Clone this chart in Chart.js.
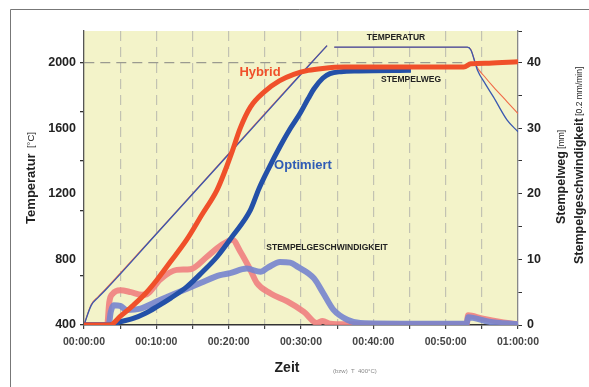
<!DOCTYPE html>
<html lang="de">
<head>
  <meta charset="UTF-8" />
  <title>Temperatur / Stempelweg</title>
  <script src="https://cdn.jsdelivr.net/npm/chart.js"></script>
  <style>
    body { margin: 0; padding: 0; background: #ffffff; }
    #wrap { width: 589px; height: 387px; position: relative; }
  </style>
</head>
<body>
  <div id="wrap"><canvas id="chart" width="589" height="387"></canvas></div>

  <script>
    // Zeit in Minuten, Temperatur in °C
    const tempOptT = [0, 1, 2, 3, 10, 20, 30, 33.6, 34.1, 34.6, 53, 53.5, 54.4, 55.5, 56.6, 58.5, 60];
    const tempOptV = [400, 520, 570, 615, 955, 1442, 1930, 2105, null, 2095, 2095, 2077, 1955, 1870, 1792, 1650, 1579];
    const tempHybT = [0, 1, 2, 3, 10, 20, 30, 33.6, 34.1, 34.6, 53, 53.5, 54.2, 55.4, 56.6, 58.5, 60];
    const tempHybV = [400, 525, 575, 620, 958, 1446, 1934, 2105, null, 2095, 2095, 2080, 1985, 1915, 1853, 1762, 1690];

    // Stempelweg in mm
    const wegHybT = [0, 3.6, 5, 6.8, 8.5, 10.1, 12, 14.2, 16.3, 18.4, 19.5, 20.5, 21.6, 23, 25, 27, 29, 31, 33, 36, 45, 52.5, 53.5, 56, 60];
    const wegHybV = [0, 0, 1.3, 3.0, 4.8, 6.9, 9.7, 13.0, 16.8, 20.6, 23.5, 26.5, 30.0, 33.2, 35.6, 37.2, 38.2, 38.8, 39.1, 39.3, 39.3, 39.3, 39.8, 39.9, 40.1];
    const wegOptT = [0, 3.5, 5, 6.8, 8.5, 10.1, 12, 14.2, 16.3, 18.4, 20.5, 23, 24.2, 25.5, 27.1, 28.5, 29.9, 31, 31.8, 33, 34, 35.5, 38, 45.2];
    const wegOptV = [0, 0, 0.5, 1.0, 1.8, 2.8, 4.1, 5.8, 8.0, 10.4, 13.5, 17.5, 20.8, 23.8, 27.2, 29.9, 32.3, 34.5, 36, 37.6, 38.3, 38.6, 38.7, 38.8];

    // Stempelgeschwindigkeit [0.2 mm/min]
    const speedHybT = [0, 3.2, 3.5, 4, 5, 6.5, 8, 8.7, 10.5, 12.8, 14.7, 17, 18.5, 19.8, 20.5, 21.6, 23, 23.9, 25.8, 28.1, 30.4, 32.2, 33, 34, 36, 52.9, 53.1, 55, 58, 60];
    const speedHybV = [0, 0, 3.5, 4.8, 5.3, 5.0, 4.6, 4.7, 6.9, 8.4, 8.5, 10.4, 11.8, 12.7, 13.0, 11.2, 8.4, 6.4, 4.8, 3.6, 2.0, 0.3, 0.6, 0.2, 0.1, 0.1, 1.5, 1.0, 0.4, 0.1];
    const speedOptT = [0, 3.4, 3.7, 4.1, 5, 5.9, 7.8, 10.5, 13.3, 16.1, 18.8, 20.2, 22.5, 24.4, 25.5, 27.1, 28.5, 29.5, 31.8, 33.1, 34.5, 36.4, 38.2, 45, 52.9, 53.1, 56, 60];
    const speedOptV = [0, 0, 2.0, 3.0, 2.9, 2.3, 2.5, 3.8, 5.1, 6.4, 7.6, 7.9, 8.6, 8.1, 8.8, 9.6, 9.5, 8.9, 7.1, 4.8, 2.3, 0.8, 0.3, 0.2, 0.2, 1.2, 0.5, 0.1];

    const leftLabels = [400, 800, 1200, 1600, 2000];
    const leftMarks = [400, 700, 1100, 1400, 1700, 2000];

    const zip = (t, v) => t.map((x, i) => ({ x: x, y: v[i] }));
    const fontFam = "'Liberation Sans', Arial, sans-serif";

    function fmtTime(m) {
      const h = Math.floor(m / 60);
      const mm = m % 60;
      return '0' + h + ':' + String(mm).padStart(2, '0') + ':00';
    }

    const decor = {
      id: 'decor',
      beforeDraw(chart) {
        const ctx = chart.ctx;
        const a = chart.chartArea;
        ctx.save();
        // outer frame
        ctx.strokeStyle = '#777';
        ctx.lineWidth = 1;
        ctx.beginPath();
        ctx.moveTo(10.5, 387);
        ctx.lineTo(10.5, 9.5);
        ctx.lineTo(589, 9.5);
        ctx.stroke();
        // plot background
        ctx.fillStyle = '#f3f3c9';
        ctx.fillRect(a.left, a.top, a.right - a.left, a.bottom - a.top);
        ctx.restore();
      },
      afterDraw(chart) {
        const ctx = chart.ctx;
        ctx.save();
        ctx.textBaseline = 'middle';

        // left axis title
        ctx.save();
        ctx.translate(31, 178);
        ctx.rotate(-Math.PI / 2);
        ctx.fillStyle = '#222';
        ctx.font = 'bold 13px ' + fontFam;
        const w1 = ctx.measureText('Temperatur').width;
        ctx.font = '9.5px ' + fontFam;
        const w2 = ctx.measureText('  [°C]').width;
        let x0 = -(w1 + w2) / 2;
        ctx.textAlign = 'left';
        ctx.font = 'bold 13px ' + fontFam;
        ctx.fillText('Temperatur', x0, 0);
        ctx.font = '9.5px ' + fontFam;
        ctx.fillText('  [°C]', x0 + w1, 0);
        ctx.restore();

        // right axis titles
        function vTitle(x, yStart, main, unit) {
          ctx.save();
          ctx.translate(x, yStart);
          ctx.rotate(-Math.PI / 2);
          ctx.fillStyle = '#222';
          ctx.textAlign = 'left';
          ctx.font = 'bold 12.5px ' + fontFam;
          const w = ctx.measureText(main).width;
          ctx.fillText(main, 0, 0);
          ctx.font = '8.5px ' + fontFam;
          ctx.fillText(' ' + unit, w, 0);
          ctx.restore();
        }
        vTitle(562, 224, 'Stempelweg', '[mm]');
        vTitle(580, 264, 'Stempelgeschwindigkeit', '[0.2 mm/min]');

        // x axis title
        ctx.textAlign = 'center';
        ctx.fillStyle = '#222';
        ctx.font = 'bold 14px ' + fontFam;
        ctx.fillText('Zeit', 287, 368);
        ctx.textAlign = 'left';
        ctx.fillStyle = '#888';
        ctx.font = '6px ' + fontFam;
        ctx.fillText('(bzw)  T  400°C)', 333, 371);

        // annotations
        ctx.textAlign = 'center';
        ctx.font = 'bold 13px ' + fontFam;
        ctx.fillStyle = '#f0502a';
        ctx.fillText('Hybrid', 260, 72);
        ctx.fillStyle = '#2f5cb5';
        ctx.fillText('Optimiert', 303, 165);
        ctx.fillStyle = '#222';
        ctx.font = 'bold 8.5px ' + fontFam;
        ctx.fillText('TEMPERATUR', 396, 38);
        ctx.fillText('STEMPELWEG', 411, 80);
        ctx.fillText('STEMPELGESCHWINDIGKEIT', 327, 248);
        ctx.restore();
      }
    };

    new Chart(document.getElementById('chart'), {
      type: 'line',
      data: {
        datasets: [
          { label: 'Stempelweg Hybrid', data: zip(wegHybT, wegHybV), yAxisID: 'y2',
            borderColor: '#f0502a', borderWidth: 5 },
          { label: 'Stempelweg Optimiert', data: zip(wegOptT, wegOptV), yAxisID: 'y2',
            borderColor: '#2350a8', borderWidth: 5 },
          { label: 'Temperatur Optimiert', data: zip(tempOptT, tempOptV), yAxisID: 'y',
            borderColor: '#3a58b0', borderWidth: 1.3 },
          { label: 'Temperatur Hybrid', data: zip(tempHybT, tempHybV), yAxisID: 'y',
            borderColor: '#f06a48', borderWidth: 1.1 },
          { label: 'Geschwindigkeit Optimiert', data: zip(speedOptT, speedOptV), yAxisID: 'y2',
            borderColor: 'rgba(118,132,206,0.9)', borderWidth: 6 },
          { label: 'Geschwindigkeit Hybrid', data: zip(speedHybT, speedHybV), yAxisID: 'y2',
            borderColor: 'rgba(240,128,128,0.9)', borderWidth: 6 }
        ]
      },
      options: {
        responsive: false,
        animation: false,
        spanGaps: false,
        layout: { padding: { top: 31, left: 0, right: 0, bottom: 0 } },
        elements: {
          point: { radius: 0 },
          line: { cubicInterpolationMode: 'monotone', fill: false }
        },
        plugins: { legend: { display: false }, tooltip: { enabled: false } },
        scales: {
          x: {
            type: 'linear', min: 0, max: 60,
            afterFit: s => { s.height = 62; },
            ticks: {
              stepSize: 5, autoSkip: false, maxRotation: 0, padding: 7,
              color: '#444', font: { family: fontFam, size: 10.5, weight: 'bold' },
              callback: v => (v % 10 === 0 ? fmtTime(v) : '')
            },
            grid: {
              color: c => (c.tick && (c.tick.value === 0 || c.tick.value === 60)) ? 'rgba(0,0,0,0)' : '#c2c2b2',
              tickColor: '#444', tickLength: 4, lineWidth: 1.2, tickBorderDash: []
            },
            border: { color: '#333', width: 1.5, dash: [10, 6] }
          },
          y: {
            position: 'left', min: 400, max: 2194,
            afterFit: s => { s.width = 84; },
            afterBuildTicks: s => { s.ticks = [400, 700, 800, 1100, 1200, 1400, 1600, 1700, 2000].map(v => ({ value: v })); },
            ticks: {
              padding: 4, color: '#222', font: { family: fontFam, size: 12.5, weight: 'bold' },
              callback: v => (leftLabels.includes(v) ? String(v) : '')
            },
            grid: {
              color: c => (c.tick && c.tick.value === 2000) ? '#9a9a90' : 'rgba(0,0,0,0)',
              tickColor: c => (c.tick && leftMarks.includes(c.tick.value)) ? '#333' : 'rgba(0,0,0,0)',
              tickLength: 4, lineWidth: 1.3, tickBorderDash: []
            },
            border: { color: '#555', width: 1.3, dash: [10, 6] }
          },
          y2: {
            position: 'right', min: 0, max: 44.8,
            afterFit: s => { s.width = 71; },
            ticks: {
              stepSize: 5, padding: 5, color: '#222', font: { family: fontFam, size: 12.5, weight: 'bold' },
              callback: v => (v % 10 === 0 ? String(v) : '')
            },
            grid: { drawOnChartArea: false, tickColor: '#333', tickLength: 4 },
            border: { color: '#888', width: 1.3 }
          }
        }
      },
      plugins: [decor]
    });
  </script>
</body>
</html>
